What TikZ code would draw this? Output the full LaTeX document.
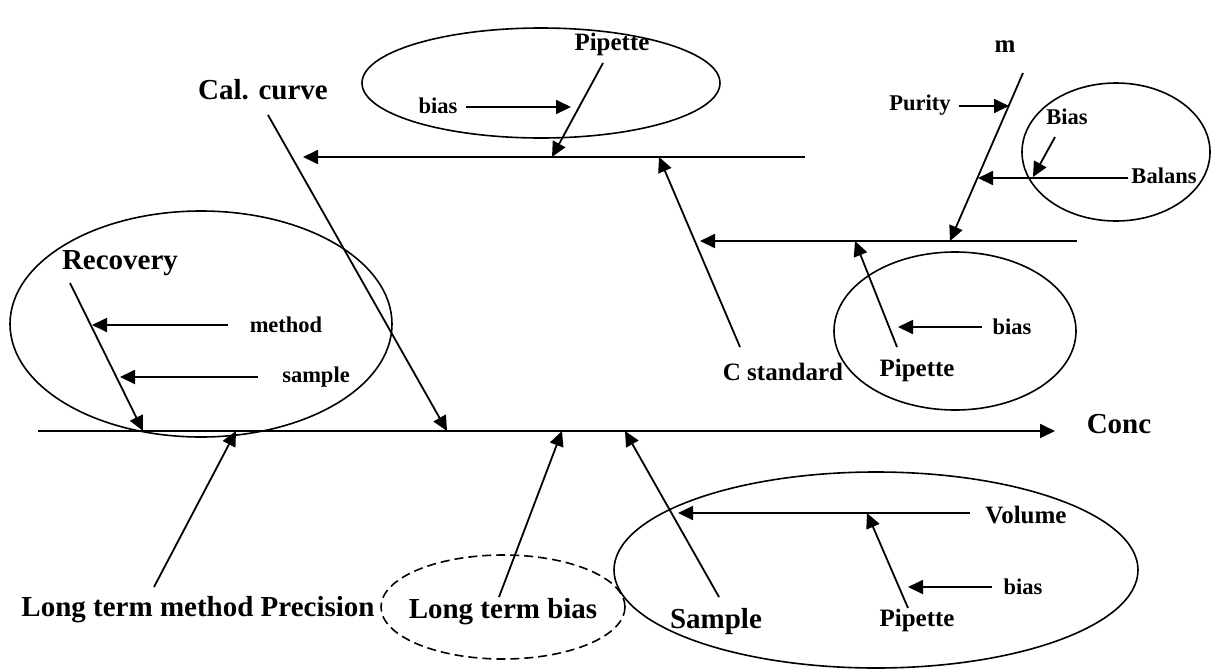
\documentclass[tikz,border=0pt]{standalone}
\usepackage{fontspec}
\setmainfont{Liberation Serif}
\usetikzlibrary{arrows.meta}
\tikzset{
  bone/.style={line width=1.8pt},
  arr/.style={line width=1.8pt,-{Triangle[length=15pt,width=14pt]}},
  ring/.style={line width=1.6pt},
  big/.style={font=\fontsize{29}{31}\selectfont\bfseries,inner sep=0pt},
  mid/.style={font=\fontsize{25}{27}\selectfont\bfseries,inner sep=0pt},
  small/.style={font=\fontsize{22.5}{24}\selectfont\bfseries,inner sep=0pt},
}
\begin{document}
\begin{tikzpicture}[x=1pt,y=-1pt]
   \useasboundingbox (0,0) rectangle (1211,670);

   % groups
   \draw[ring] (541,83) ellipse [x radius=179pt, y radius=55pt];
   \draw[ring] (1116,152) ellipse [x radius=94pt, y radius=69pt];
   \draw[ring] (955,331) ellipse [x radius=121pt, y radius=79pt];
   \draw[ring] (201,324) ellipse [x radius=191pt, y radius=113pt];
   \draw[ring] (876,570) ellipse [x radius=262pt, y radius=98pt];
   \draw[ring,dash pattern=on 9pt off 5pt] (503,607) ellipse [x radius=122pt, y radius=52pt];

   % labels
   \node[big] (conc) at (1119,424) {Conc};
   \node[big] (cal) at (263,90) {Cal. curve};
   \node[big] (recov) at (120,263) {Recovery};
   \node[mid] (cstd) at (783,372) {C standard};
   \node[mid] (pipT) at (612,44) {Pipette};
   \node[small] (biasT) at (438,106) {bias};
   \node[mid] (mass) at (1005,47) {m};
   \node[small] (purity) at (920,105) {Purity};
   \node[small] (biasB) at (1067,117) {Bias};
   \node[small] (balans) at (1164,176) {Balans};
   \node[mid] (pipR) at (917,370) {Pipette};
   \node[small] (biasR) at (1012,327) {bias};
   \node[small] (method) at (286,325) {method};
   \node[small] (sample) at (316,377) {sample};
   \node[big] (ltmp) at (198,610) {Long term method Precision};
   \node[big] (ltb) at (503,612) {Long term bias};
   \node[big] (samp) at (716,622) {Sample};
   \node[mid] (pipV) at (917,620) {Pipette};
   \node[small] (biasV) at (1023,587) {bias};
   \node[mid] (vol) at (1026,515) {Volume};

   % bones
   \coordinate (spineL) at (38,431);
   \coordinate (spineR) at (1055,431);
   \coordinate (topR) at (805,157);
   \coordinate (topL) at (303,157);
   \coordinate (midR) at (1077,241);
   \coordinate (midL) at (700,241);
   \draw[arr] (spineL) -- (spineR);
   \draw[arr] (topR) -- (topL);
   \draw[arr] (midR) -- (midL);

   % Cal. curve branch
   \coordinate (calS) at (268,115);
   \coordinate (calE) at (447,431);
   \draw[arr] (calS) -- (calE);
   \coordinate (pipTS) at (603,63);
   \coordinate (pipTE) at (552,157);
   \draw[arr] (pipTS) -- (pipTE);
   \coordinate (biasTS) at (466,107);
   \coordinate (biasTE) at (571,107);
   \draw[arr] (biasTS) -- (biasTE);

   % C standard branch
   \coordinate (cstdS) at (740,347);
   \coordinate (cstdE) at (659,157);
   \draw[arr] (cstdS) -- (cstdE);
   \coordinate (massS) at (1023,73);
   \coordinate (massE) at (950,241);
   \draw[arr] (massS) -- (massE);
   \coordinate (purS) at (959,106);
   \coordinate (purE) at (1009,106);
   \draw[arr] (purS) -- (purE);
   \coordinate (balS) at (1128,178);
   \coordinate (balE) at (978,178);
   \draw[arr] (balS) -- (balE);
   \coordinate (biasBS) at (1055,137);
   \coordinate (biasBE) at (1033,177);
   \draw[arr] (biasBS) -- (biasBE);
   \coordinate (pipRS) at (897,347);
   \coordinate (pipRE) at (855,241);
   \draw[arr] (pipRS) -- (pipRE);
   \coordinate (biasRS) at (982,327);
   \coordinate (biasRE) at (898,327);
   \draw[arr] (biasRS) -- (biasRE);

   % Recovery branch
   \coordinate (recS) at (70,283);
   \coordinate (recE) at (143,431);
   \draw[arr] (recS) -- (recE);
   \coordinate (methS) at (228,325);
   \coordinate (methE) at (92,325);
   \draw[arr] (methS) -- (methE);
   \coordinate (sampS) at (258,377);
   \coordinate (sampE) at (120,377);
   \draw[arr] (sampS) -- (sampE);

   % lower branches
   \coordinate (ltmpS) at (154,587);
   \coordinate (ltmpE) at (236,431);
   \draw[arr] (ltmpS) -- (ltmpE);
   \coordinate (ltbS) at (499,597);
   \coordinate (ltbE) at (562,431);
   \draw[arr] (ltbS) -- (ltbE);
   \coordinate (smpS) at (719,597);
   \coordinate (smpE) at (625,431);
   \draw[arr] (smpS) -- (smpE);
   \coordinate (volS) at (970,513);
   \coordinate (volE) at (678,513);
   \draw[arr] (volS) -- (volE);
   \coordinate (pipVS) at (908,608);
   \coordinate (pipVE) at (867,513);
   \draw[arr] (pipVS) -- (pipVE);
   \coordinate (biasVS) at (992,587);
   \coordinate (biasVE) at (908,587);
   \draw[arr] (biasVS) -- (biasVE);
\end{tikzpicture}
\end{document}
